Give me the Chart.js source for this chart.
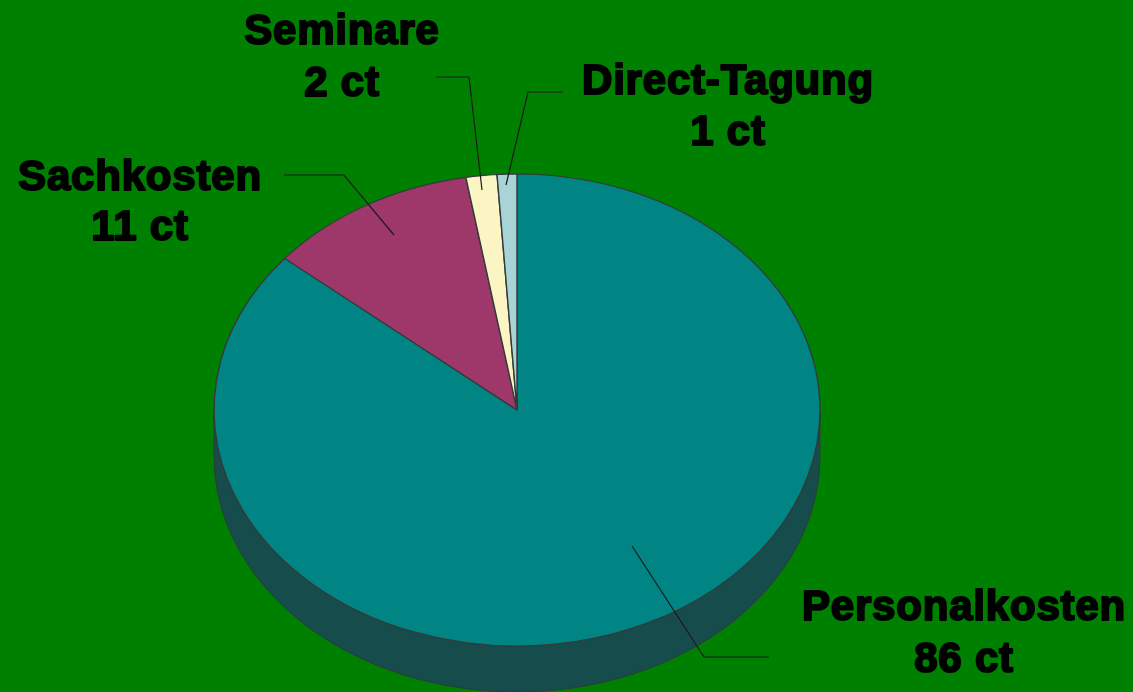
<!DOCTYPE html>
<html><head><meta charset="utf-8">
<script src="https://cdn.jsdelivr.net/npm/chart.js@4"></script>
<style>html,body{margin:0;padding:0;background:#008000;overflow:hidden}canvas{display:block}</style>
</head><body><canvas id="c" width="1133" height="692"></canvas>
<script>
const categories = ["Personalkosten", "Sachkosten", "Seminare", "Direct-Tagung"];
const values = [86.1, 11.2, 1.65, 1.05];
const unit = "ct";
const sliceColors = ["#008484", "#9f386a", "#fbf5c3", "#a9d4d7"];

const geom = {cx: 517, cy: 410, rx: 303, ry: 236, depth: 46};
const labelPos = [
  {x: 964, y: 620, y2: 672, line: [[632,546],[704,657],[769,657]]},
  {x: 140, y: 190, y2: 240, line: [[394,235],[344,175],[284,175]]},
  {x: 342, y: 44, y2: 96, line: [[482,190],[469,77],[436,77]]},
  {x: 728, y: 94, y2: 145, line: [[506,185],[528,92],[563,92]]}
];

const ellipsePie = {
  id: 'ellipsePie',
  beforeDatasetsDraw(chart) {
    const ctx = chart.ctx, g = geom;
    ctx.save();
    ctx.beginPath();
    ctx.ellipse(g.cx, g.cy, g.rx, g.ry, 0, Math.PI, 0, true);
    ctx.lineTo(g.cx + g.rx, g.cy + g.depth);
    ctx.ellipse(g.cx, g.cy + g.depth, g.rx, g.ry, 0, 0, Math.PI, false);
    ctx.closePath();
    ctx.fillStyle = '#174c4c';
    ctx.fill();
    ctx.strokeStyle = '#2b3a3a';
    ctx.lineWidth = 1;
    ctx.stroke();
    ctx.restore();
    const arc = chart.getDatasetMeta(0).data[0];
    ctx.save();
    ctx.translate(g.cx, g.cy);
    ctx.scale(g.rx / arc.outerRadius, g.ry / arc.outerRadius);
    ctx.translate(-arc.x, -arc.y);
  },
  afterDatasetsDraw(chart) {
    const ctx = chart.ctx;
    ctx.restore();
    ctx.save();
    ctx.strokeStyle = '#1a1a1a';
    ctx.lineWidth = 1.2;
    labelPos.forEach(p => {
      ctx.beginPath();
      p.line.forEach((q, i) => i ? ctx.lineTo(q[0], q[1]) : ctx.moveTo(q[0], q[1]));
      ctx.stroke();
    });
    ctx.fillStyle = '#000';
    ctx.strokeStyle = '#000';
    ctx.lineWidth = 2;
    ctx.lineJoin = 'round';
    ctx.textAlign = 'center';
    ctx.textBaseline = 'alphabetic';
    ctx.letterSpacing = '0.8px';
    ctx.font = 'bold 42px "Liberation Sans", Arial, sans-serif';
    categories.forEach((name, i) => {
      const p = labelPos[i];
      [[name, p.y], [Math.round(values[i]) + ' ' + unit, p.y2]].forEach(([t, y]) => {
        ctx.strokeText(t, p.x, y);
        ctx.fillText(t, p.x, y);
      });
    });
    ctx.restore();
  }
};

new Chart(document.getElementById('c'), {
  type: 'pie',
  data: {
    labels: categories,
    datasets: [{
      data: values,
      backgroundColor: sliceColors,
      borderColor: '#333a3a',
      borderWidth: 1.4,
      borderAlign: 'center'
    }]
  },
  options: {
    responsive: false,
    animation: false,
    layout: {padding: {left: 214, right: 313, top: 0, bottom: 86}},
    plugins: {legend: {display: false}, tooltip: {enabled: false}, title: {display: false}}
  },
  plugins: [ellipsePie]
});
</script></body></html>
